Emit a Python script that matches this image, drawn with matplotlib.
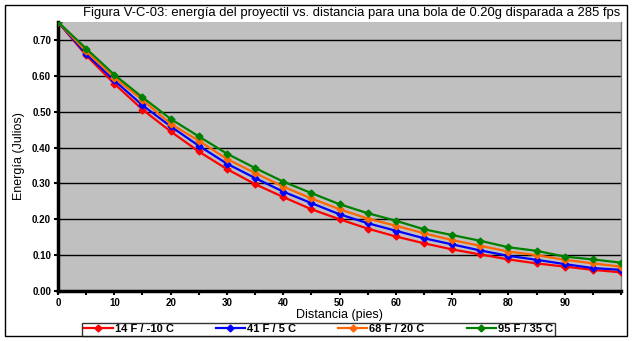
import matplotlib
matplotlib.use("Agg")
import matplotlib.pyplot as plt
from matplotlib.patches import Rectangle
from matplotlib.ticker import MultipleLocator

distancia = list(range(0, 105, 5))
e_14F = [0.750, 0.657, 0.578, 0.506, 0.445, 0.389, 0.340, 0.298, 0.262, 0.228, 0.200,
         0.174, 0.152, 0.133, 0.116, 0.102, 0.088, 0.077, 0.068, 0.059, 0.052]
e_41F = [0.750, 0.661, 0.587, 0.518, 0.459, 0.405, 0.355, 0.315, 0.277, 0.245, 0.214,
         0.189, 0.168, 0.147, 0.130, 0.113, 0.098, 0.087, 0.075, 0.064, 0.059]
e_68F = [0.750, 0.668, 0.595, 0.533, 0.466, 0.419, 0.368, 0.329, 0.291, 0.258, 0.228,
         0.202, 0.182, 0.161, 0.142, 0.126, 0.110, 0.100, 0.087, 0.077, 0.068]
e_95F = [0.750, 0.676, 0.603, 0.540, 0.480, 0.431, 0.383, 0.343, 0.305, 0.273, 0.242,
         0.217, 0.196, 0.172, 0.156, 0.140, 0.122, 0.112, 0.096, 0.088, 0.079]
etiquetas = ["14 F / -10 C", "41 F / 5 C", "68 F / 20 C", "95 F / 35 C"]
colores = ["#FF0000", "#0000FF", "#FF6600", "#008000"]

W, H = 633, 341
fig = plt.figure(figsize=(W / 100, H / 100), dpi=100)
fig.patch.set_facecolor("white")

# outer frame
fig.patches.append(Rectangle((5 / W, 1 - 336 / H), 622 / W, 331 / H,
                             transform=fig.transFigure, fill=False,
                             edgecolor="black", linewidth=1))

ax = fig.add_axes([58 / W, 1 - 291 / H, 563 / W, 269 / H])
ax.set_facecolor("#C0C0C0")

for serie, lab, col in zip([e_14F, e_41F, e_68F, e_95F], etiquetas, colores):
    ax.plot(distancia, serie, color=col, linewidth=1.6, marker="D",
            markersize=3.5, label=lab, zorder=3)

ax.set_xlim(0, 100)
ax.set_ylim(0, 0.75)
ax.xaxis.set_major_locator(MultipleLocator(5))
ax.set_yticks([0, 0.1, 0.2, 0.3, 0.4, 0.5, 0.6, 0.7])
ax.set_yticklabels([f"{v:.2f}" for v in ax.get_yticks()])
ax.set_xticklabels([str(int(v)) if v % 10 == 0 and v < 100 else ""
                    for v in ax.get_xticks()])
ax.grid(axis="y", color="black", linewidth=1)
ax.set_axisbelow(True)

for side in ["left", "bottom"]:
    ax.spines[side].set_linewidth(2.5)
    ax.spines[side].set_color("black")
ax.spines["top"].set_visible(False)
ax.spines["right"].set_color("#808080")
ax.spines["right"].set_linewidth(1)

ax.tick_params(axis="both", direction="out", length=3, width=1.5, color="black",
               labelsize=7, pad=2)
for t in ax.get_xticklabels() + ax.get_yticklabels():
    t.set_fontweight("bold")
    t.set_family("Liberation Sans")

ax.set_xlabel("Distancia (pies)", fontsize=9, family="Liberation Sans", labelpad=1)
ax.set_ylabel("Energía (Julios)", fontsize=9, family="Liberation Sans", labelpad=5)

fig.text(352 / W, 1 - 13 / H,
         "Figura V-C-03: energía del proyectil vs. distancia para una bola de 0.20g disparada a 285 fps",
         ha="center", va="center", fontsize=9.4, family="Liberation Sans")

leg = fig.legend(loc="lower left", bbox_to_anchor=(82 / W, 5 / H), ncol=4,
                 frameon=True, fancybox=False, edgecolor="black",
                 prop={"family": "Liberation Sans", "weight": "bold", "size": 8},
                 handlelength=2.6, handletextpad=0.2, columnspacing=3.8,
                 borderpad=0.15, borderaxespad=0)
leg.get_frame().set_linewidth(1)

fig.savefig("out.png", dpi=100)
